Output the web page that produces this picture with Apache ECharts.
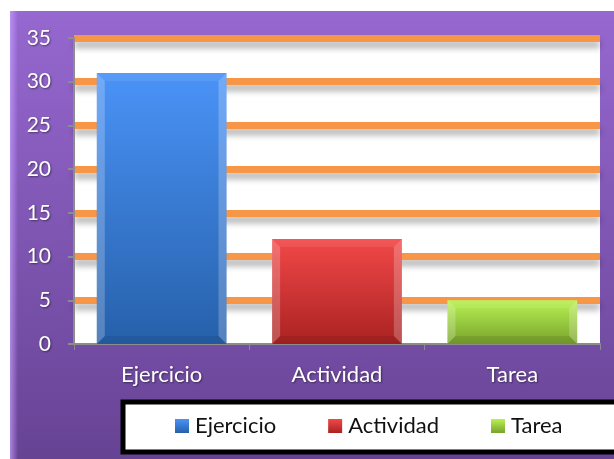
<!DOCTYPE html>
<html>
<head>
<meta charset="utf-8">
<script src="https://cdn.jsdelivr.net/npm/echarts@6/dist/echarts.min.js"></script>
<style>
html,body{margin:0;padding:0;background:#fff;}
#c{width:614px;height:459px;}
</style>
</head>
<body>
<div id="c"></div>
<script>
const categories = ['Ejercicio', 'Actividad', 'Tarea'];
const values = [31, 12, 5];
const yMin = 0, yMax = 35, yStep = 5;
const gradTop = ['#4a93f7', '#f24848', '#b8f252'];
const gradBottom = ['#2660aa', '#aa2222', '#78a22c'];

const chart = echarts.init(document.getElementById('c'), null, {renderer: 'canvas'});

const BAR_RATIO = 0.74;

const series = categories.map((name, i) => ({
  name: name,
  type: 'bar',
  stack: 'all',
  barWidth: (BAR_RATIO * 100) + '%',
  data: categories.map((c, j) => (j === i ? values[i] : '-')),
  itemStyle: {
    color: new echarts.graphic.LinearGradient(0, 0, 0, 1, [
      {offset: 0, color: gradTop[i]},
      {offset: 1, color: gradBottom[i]}
    ])
  }
}));

// bevel highlight on the bar edges, positioned through the axes
series.push({
  type: 'custom',
  silent: true,
  z: 3,
  data: values.map((v, i) => [i, v]),
  renderItem: function (params, api) {
    const top = api.coord([api.value(0), api.value(1)]);
    const base = api.coord([api.value(0), 0]);
    const bw = api.size([1, 0])[0] * BAR_RATIO;
    const x0 = top[0] - bw / 2, x1 = top[0] + bw / 2;
    const e = 8;
    const h = base[1] - top[1];
    const d = Math.min(e, h / 2);
    return {
      type: 'group',
      children: [
        {type: 'polygon', shape: {points: [[x0, top[1]], [x0 + e, top[1] + d], [x0 + e, base[1] - d], [x0, base[1]]]},
         style: {fill: 'rgba(255,255,255,0.22)'}},
        {type: 'polygon', shape: {points: [[x1, top[1]], [x1 - e, top[1] + d], [x1 - e, base[1] - d], [x1, base[1]]]},
         style: {fill: 'rgba(255,255,255,0.22)'}},
        {type: 'polygon', shape: {points: [[x0, top[1]], [x1, top[1]], [x1 - e, top[1] + d], [x0 + e, top[1] + d]]},
         style: {fill: 'rgba(255,255,255,0.08)'}},
        {type: 'polygon', shape: {points: [[x0, base[1]], [x1, base[1]], [x1 - e, base[1] - d], [x0 + e, base[1] - d]]},
         style: {fill: 'rgba(0,0,0,0.08)'}}
      ]
    };
  }
});

const labelFont = 'Lato';

chart.setOption({
  animation: false,
  backgroundColor: '#ffffff',
  graphic: [
    {
      type: 'rect', z: -10, silent: true,
      shape: {x: 10, y: 11, width: 604, height: 448},
      style: {
        fill: new echarts.graphic.LinearGradient(0, 0, 0, 1, [
          {offset: 0, color: '#9668d0'},
          {offset: 1, color: '#674394'}
        ])
      }
    },
    {
      type: 'rect', z: -9, silent: true,
      shape: {x: 10, y: 11, width: 8, height: 448},
      style: {
        fill: new echarts.graphic.LinearGradient(0, 0, 1, 0, [
          {offset: 0, color: 'rgba(200,160,255,0.7)'},
          {offset: 1, color: 'rgba(200,160,255,0)'}
        ])
      }
    },
    {
      type: 'rect', z: 0, silent: true,
      shape: {x: 123, y: 402, width: 520, height: 50},
      style: {fill: '#ffffff', stroke: '#000000', lineWidth: 5}
    }
  ],
  grid: {
    left: 74, right: 14, top: 38, bottom: 115,
    show: true, backgroundColor: '#ffffff', borderWidth: 0
  },
  legend: {
    data: categories,
    left: 175, top: 415,
    padding: 0,
    itemGap: 52,
    itemWidth: 14, itemHeight: 14,
    icon: 'rect',
    z: 5,
    textStyle: {fontFamily: labelFont, fontSize: 22, color: '#111111', padding: [0, 0, 0, 1]}
  },
  xAxis: {
    type: 'category',
    data: categories,
    axisLine: {lineStyle: {color: '#8c8c8c', width: 2}},
    axisTick: {show: true, length: 6, lineStyle: {color: '#8c8c8c', width: 1}},
    axisLabel: {
      fontFamily: labelFont, fontSize: 22, color: '#ffffff', margin: 20,
      textShadowColor: 'rgba(0,0,0,0.45)', textShadowBlur: 2, textShadowOffsetX: 1, textShadowOffsetY: 1
    }
  },
  yAxis: {
    type: 'value',
    min: yMin, max: yMax, interval: yStep,
    axisLine: {show: true, lineStyle: {color: '#8c8c8c', width: 2}},
    axisTick: {show: true, length: 6, lineStyle: {color: '#8c8c8c', width: 2}},
    axisLabel: {
      fontFamily: labelFont, fontSize: 21, color: '#ffffff', margin: 23,
      textShadowColor: 'rgba(0,0,0,0.45)', textShadowBlur: 2, textShadowOffsetX: 1, textShadowOffsetY: 1
    },
    splitLine: {
      show: true,
      showMinLine: false,
      lineStyle: {
        color: '#f79646', width: 7,
        shadowColor: 'rgba(0,0,0,0.3)', shadowBlur: 6, shadowOffsetY: 6
      }
    }
  },
  series: series
});
</script>
</body>
</html>
